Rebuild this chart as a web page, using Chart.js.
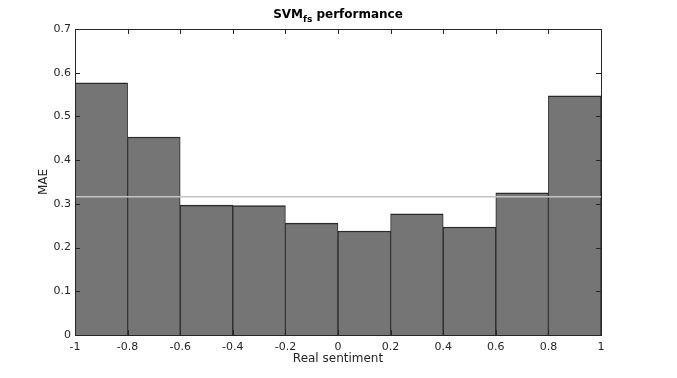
<!DOCTYPE html>
<html>
<head>
<meta charset="utf-8">
<script src="https://cdn.jsdelivr.net/npm/chart.js@4/dist/chart.umd.min.js"></script>
<style>
html,body{margin:0;padding:0;background:#fff;}
#wrap{width:677px;height:378px;}
</style>
</head>
<body>
<div id="wrap"><canvas id="c" width="677" height="378"></canvas></div>
<script>
const binEdges = [-1, -0.8, -0.6, -0.4, -0.2, 0, 0.2, 0.4, 0.6, 0.8, 1];
const maeValues = [0.577, 0.453, 0.297, 0.296, 0.256, 0.238, 0.277, 0.247, 0.325, 0.547];
const meanMAE = 0.316;
const xTicks = [-1, -0.8, -0.6, -0.4, -0.2, 0, 0.2, 0.4, 0.6, 0.8, 1];
const yTicks = [0, 0.1, 0.2, 0.3, 0.4, 0.5, 0.6, 0.7];

const barData = maeValues.map((v, i) => ({x: (binEdges[i] + binEdges[i + 1]) / 2, y: v}));
const lineData = [{x: binEdges[0], y: meanMAE}, {x: binEdges[binEdges.length - 1], y: meanMAE}];

const FONT = "'DejaVu Sans', sans-serif";
const TXT = '#262626';

const framePlugin = {
  id: 'frame',
  afterDatasetsDraw(chart) {
    const {ctx, chartArea: a, scales: {x, y}} = chart;
    ctx.save();
    ctx.strokeStyle = TXT;
    ctx.lineWidth = 1;
    ctx.strokeRect(Math.round(a.left) + 0.5, Math.round(a.top) + 0.5, Math.round(a.right - a.left), Math.round(a.bottom - a.top));
    const tl = 5;
    ctx.beginPath();
    xTicks.forEach(t => {
      const px = Math.round(x.getPixelForValue(t)) + 0.5;
      ctx.moveTo(px, a.bottom); ctx.lineTo(px, a.bottom - tl);
      ctx.moveTo(px, a.top); ctx.lineTo(px, a.top + tl);
    });
    yTicks.forEach(t => {
      const py = Math.round(y.getPixelForValue(t)) + 0.5;
      ctx.moveTo(a.left, py); ctx.lineTo(a.left + tl, py);
      ctx.moveTo(a.right, py); ctx.lineTo(a.right - tl, py);
    });
    ctx.stroke();
    ctx.restore();
  },
  afterDraw(chart) {
    const {ctx, chartArea: a} = chart;
    ctx.save();
    ctx.fillStyle = '#000';
    ctx.textBaseline = 'alphabetic';
    const main = "bold 12px " + FONT;
    const sub = "bold 9px " + FONT;
    ctx.font = main; const w1 = ctx.measureText('SVM').width; const w3 = ctx.measureText(' performance').width;
    ctx.font = sub; const w2 = ctx.measureText('fs').width;
    const total = w1 + w2 + w3;
    const cx = (a.left + a.right) / 2;
    let sx = cx - total / 2;
    const by = 18;
    ctx.font = main; ctx.fillText('SVM', sx, by); sx += w1;
    ctx.font = sub; ctx.fillText('fs', sx, by + 4); sx += w2;
    ctx.font = main; ctx.fillText(' performance', sx, by);
    ctx.restore();
  }
};

new Chart(document.getElementById('c'), {
  data: {
    datasets: [
      {
        type: 'line',
        data: lineData,
        borderColor: '#c4c4c4',
        borderWidth: 1.5,
        pointRadius: 0,
        order: 0
      },
      {
        type: 'bar',
        data: barData,
        backgroundColor: '#757575',
        borderColor: '#2a2a2a',
        borderWidth: {top: 1.5, left: 1, right: 1, bottom: 0},
        borderSkipped: false,
        barPercentage: 1,
        categoryPercentage: 1,
        order: 1
      }
    ]
  },
  options: {
    responsive: false,
    animation: false,
    devicePixelRatio: 1,
    layout: {padding: {left: 0, right: 76, top: 29, bottom: 0}},
    plugins: {legend: {display: false}, tooltip: {enabled: false}, title: {display: false}},
    scales: {
      x: {
        type: 'linear',
        min: -1, max: 1,
        offset: false,
        grid: {display: false, drawTicks: false},
        border: {display: false},
        afterBuildTicks(s) { s.ticks = xTicks.map(v => ({value: v})); },
        afterFit(s) { s.height = 43; },
        ticks: {
          font: {family: FONT, size: 11},
          color: TXT,
          padding: 6,
          maxRotation: 0,
          autoSkip: false,
          callback: v => String(Math.round(v * 10) / 10)
        },
        title: {
          display: true,
          text: 'Real sentiment',
          font: {family: FONT, size: 12},
          color: TXT,
          padding: {top: 0, bottom: 12}
        }
      },
      y: {
        type: 'linear',
        min: 0, max: 0.7,
        grid: {display: false, drawTicks: false},
        border: {display: false},
        afterBuildTicks(s) { s.ticks = yTicks.map(v => ({value: v})); },
        afterFit(s) { s.width = 75; },
        ticks: {
          font: {family: FONT, size: 11},
          color: TXT,
          padding: 4,
          callback: v => String(Math.round(v * 10) / 10)
        },
        title: {
          display: true,
          text: 'MAE',
          font: {family: FONT, size: 12},
          color: TXT,
          padding: {top: 37, bottom: 0}
        }
      }
    }
  },
  plugins: [framePlugin]
});
</script>
</body>
</html>
